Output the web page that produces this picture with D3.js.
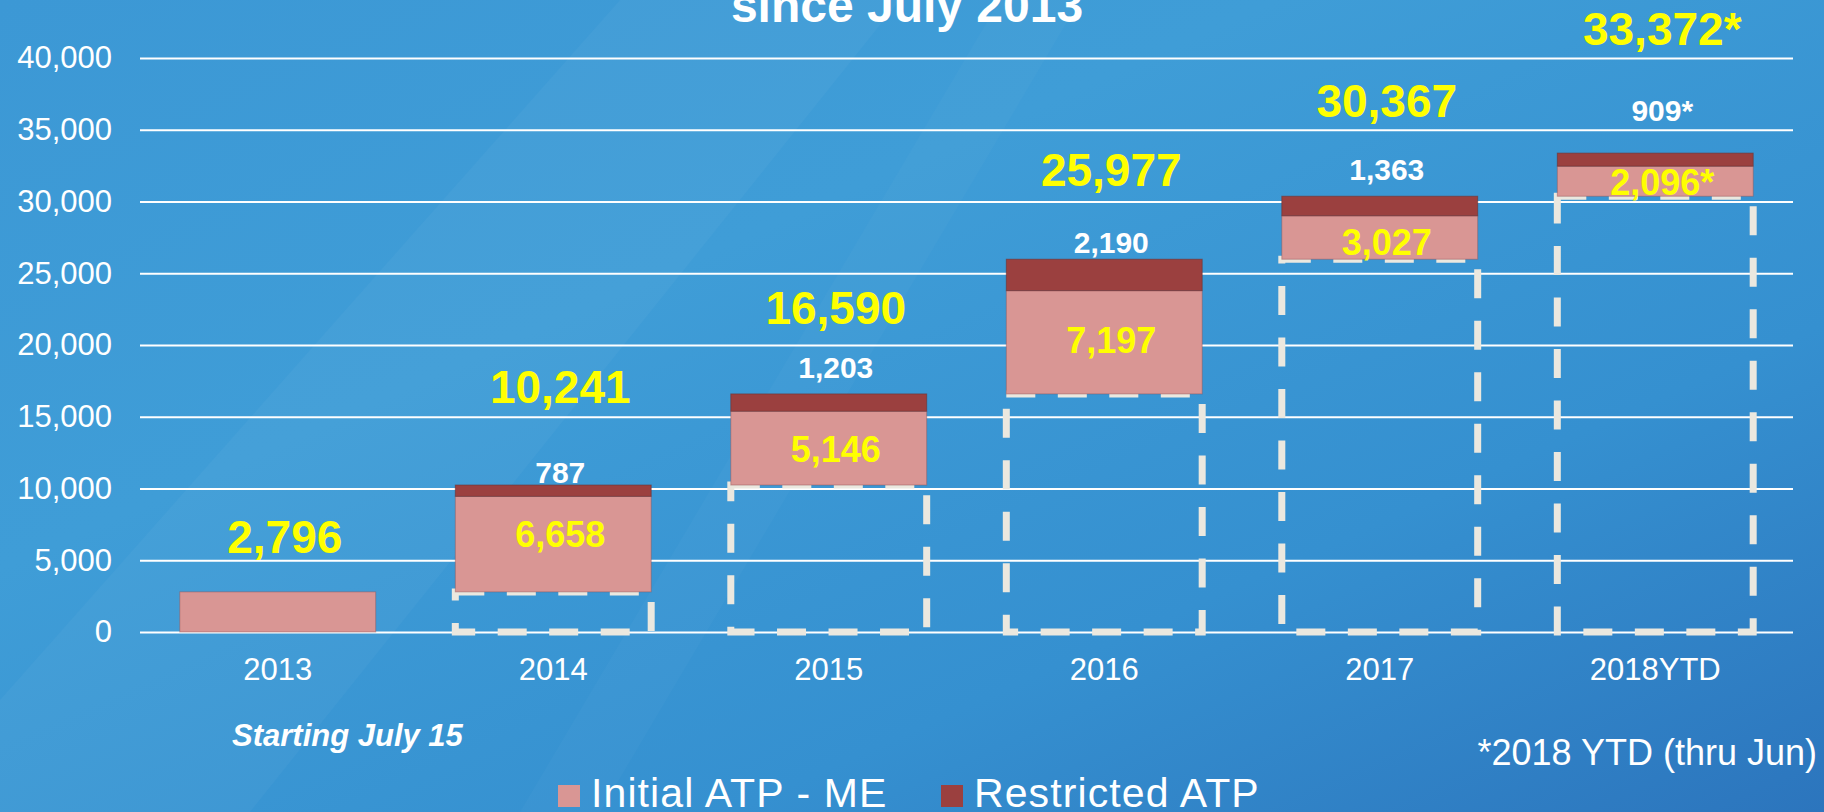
<!DOCTYPE html>
<html>
<head>
<meta charset="utf-8">
<script src="https://cdn.jsdelivr.net/npm/d3@7"></script>
<style>
  html, body { margin: 0; padding: 0; overflow: hidden; background: #3a97d4; }
  svg { display: block; font-family: "Liberation Sans", Arial, sans-serif; }
</style>
</head>
<body>
<div id="chart"></div>
<script>
// values
let years = ['2013', '2014', '2015', '2016', '2017', '2018YTD']
let initialAtp = [2796, 6658, 5146, 7197, 3027, 2096]
let restrictedAtp = [0, 787, 1203, 2190, 1363, 909]
let totals = [2796, 10241, 16590, 25977, 30367, 33372]
let totalText = ['2,796', '10,241', '16,590', '25,977', '30,367', '33,372*']
let initialText = ['', '6,658', '5,146', '7,197', '3,027', '2,096*']
let restrictedText = ['', '787', '1,203', '2,190', '1,363', '909*']
let yTicks = [0, 5000, 10000, 15000, 20000, 25000, 30000, 35000, 40000]
// where the hand placed labels sit, in axis units
let totalLabelAt = [5505, 15959, 21464, 31082, 35890, 40908]
let restrictedLabelAt = [null, 10384, 17701, 26412, 31500, 35612]
let initialLabelAt = [null, 5924, 11847, 19443, 26273, 30455]

let width = 1824
let height = 812
let plotLeft = 140, plotRight = 1793, plotTop = 58, plotBottom = 632

let svg = d3.select('#chart').append('svg')
  .attr('width', width)
  .attr('height', height)

// background
let defs = svg.append('defs')
let grad = defs.append('linearGradient').attr('id', 'bg')
  .attr('x1', 0).attr('y1', 0).attr('x2', 1).attr('y2', 1)
grad.append('stop').attr('offset', '0%').attr('stop-color', '#3c98d5')
grad.append('stop').attr('offset', '35%').attr('stop-color', '#3f9dd7')
grad.append('stop').attr('offset', '70%').attr('stop-color', '#3590d0')
grad.append('stop').attr('offset', '100%').attr('stop-color', '#2c75bd')
svg.append('rect').attr('width', width).attr('height', height).attr('fill', 'url(#bg)')
svg.append('path')
  .attr('d', 'M620,0 L900,0 L250,812 L0,812 L0,700 Z')
  .attr('fill', '#ffffff').attr('opacity', 0.03)
svg.append('path')
  .attr('d', 'M1000,0 L1080,0 L600,812 L520,812 Z')
  .attr('fill', '#ffffff').attr('opacity', 0.025)

let x = d3.scaleBand().domain(years).range([plotLeft, plotRight])
  .paddingInner(0.289).paddingOuter(0.1445)
let y = d3.scaleLinear().domain([0, 40000]).range([plotBottom, plotTop])

// grid + y labels
let yAxis = svg.append('g')
  .attr('transform', 'translate(' + plotLeft + ',0)')
  .call(d3.axisLeft(y).tickValues(yTicks).tickSize(-(plotRight - plotLeft)).tickPadding(28).tickFormat(d3.format(',')))
yAxis.select('.domain').remove()
yAxis.selectAll('line').attr('stroke', '#ffffff').attr('stroke-width', 2.2)
yAxis.selectAll('text').attr('fill', '#ffffff').attr('font-size', 31)
  .attr('font-family', '"Liberation Sans", Arial, sans-serif')

// x labels
let xAxis = svg.append('g')
  .attr('transform', 'translate(0,' + plotBottom + ')')
  .call(d3.axisBottom(x).tickSize(0).tickPadding(26))
xAxis.select('.domain').remove()
xAxis.selectAll('text').attr('fill', '#ffffff').attr('font-size', 31)
  .attr('font-family', '"Liberation Sans", Arial, sans-serif')

let rows = years.map(function (yr, i) {
  return {
    year: yr,
    base: i === 0 ? 0 : totals[i - 1],
    initial: initialAtp[i],
    restricted: restrictedAtp[i],
    i: i
  }
})

// dashed boxes showing the carried-over total
svg.selectAll('.carry')
  .data(rows.filter(function (d) { return d.base > 0 }))
  .enter()
  .append('rect')
  .attr('class', 'carry')
  .attr('x', function (d) { return x(d.year) })
  .attr('y', function (d) { return y(d.base) })
  .attr('width', x.bandwidth())
  .attr('height', function (d) { return y(0) - y(d.base) })
  .attr('fill', 'none')
  .attr('stroke', '#ebe8df')
  .attr('stroke-width', 7)
  .attr('stroke-dasharray', '29 22.5')

// initial ATP segment
svg.selectAll('.initial')
  .data(rows)
  .enter()
  .append('rect')
  .attr('class', 'initial')
  .attr('x', function (d) { return x(d.year) })
  .attr('y', function (d) { return y(d.base + d.initial) })
  .attr('width', x.bandwidth())
  .attr('height', function (d) { return y(d.base) - y(d.base + d.initial) })
  .attr('fill', '#d99694')
  .attr('stroke', 'rgba(140,80,85,0.45)')
  .attr('stroke-width', 1)

// restricted ATP segment
svg.selectAll('.restricted')
  .data(rows)
  .enter()
  .append('rect')
  .attr('class', 'restricted')
  .attr('x', function (d) { return x(d.year) })
  .attr('y', function (d) { return y(d.base + d.initial + d.restricted) })
  .attr('width', x.bandwidth())
  .attr('height', function (d) { return y(d.base + d.initial) - y(d.base + d.initial + d.restricted) })
  .attr('fill', '#9b403f')
  .attr('stroke', 'rgba(110,50,50,0.6)')
  .attr('stroke-width', 1)

let cx = function (d) { return x(d.year) + x.bandwidth() / 2 + 7 }

// labels
svg.selectAll('.lab-total')
  .data(rows)
  .enter()
  .append('text')
  .attr('x', cx)
  .attr('y', function (d) { return y(totalLabelAt[d.i]) })
  .attr('text-anchor', 'middle')
  .attr('font-size', 46).attr('font-weight', 'bold')
  .attr('fill', '#ffff00')
  .text(function (d) { return totalText[d.i] })

svg.selectAll('.lab-restricted')
  .data(rows.filter(function (d) { return restrictedLabelAt[d.i] !== null }))
  .enter()
  .append('text')
  .attr('x', cx)
  .attr('y', function (d) { return y(restrictedLabelAt[d.i]) })
  .attr('text-anchor', 'middle')
  .attr('font-size', 30).attr('font-weight', 'bold')
  .attr('fill', '#ffffff')
  .text(function (d) { return restrictedText[d.i] })

svg.selectAll('.lab-initial')
  .data(rows.filter(function (d) { return initialLabelAt[d.i] !== null }))
  .enter()
  .append('text')
  .attr('x', cx)
  .attr('y', function (d) { return y(initialLabelAt[d.i]) })
  .attr('text-anchor', 'middle')
  .attr('font-size', 36).attr('font-weight', 'bold')
  .attr('fill', '#ffff00')
  .text(function (d) { return initialText[d.i] })

// title (cut at the top edge)
svg.append('text')
  .attr('x', 907).attr('y', 22)
  .attr('text-anchor', 'middle')
  .attr('font-size', 48).attr('font-weight', 'bold')
  .attr('fill', '#ffffff')
  .text('since July 2013')

svg.append('text')
  .attr('x', 232).attr('y', 746)
  .attr('font-size', 31).attr('font-weight', 'bold').attr('font-style', 'italic')
  .attr('fill', '#ffffff')
  .text('Starting July 15')

svg.append('text')
  .attr('x', 1817).attr('y', 765)
  .attr('text-anchor', 'end')
  .attr('font-size', 36)
  .attr('fill', '#ffffff')
  .text('*2018 YTD (thru Jun)')

// legend
let legend = [
  {name: 'Initial ATP - ME', color: '#d99694', x: 558},
  {name: 'Restricted ATP', color: '#9b403f', x: 941}
]
let lg = svg.selectAll('.legend')
  .data(legend)
  .enter()
  .append('g')
  .attr('transform', function (d) { return 'translate(' + d.x + ',785)' })
lg.append('rect').attr('width', 22).attr('height', 22).attr('fill', function (d) { return d.color })
lg.append('text')
  .attr('x', 33).attr('y', 22)
  .attr('font-size', 41)
  .attr('letter-spacing', 1.1)
  .attr('fill', '#ffffff')
  .text(function (d) { return d.name })
</script>
</body>
</html>
